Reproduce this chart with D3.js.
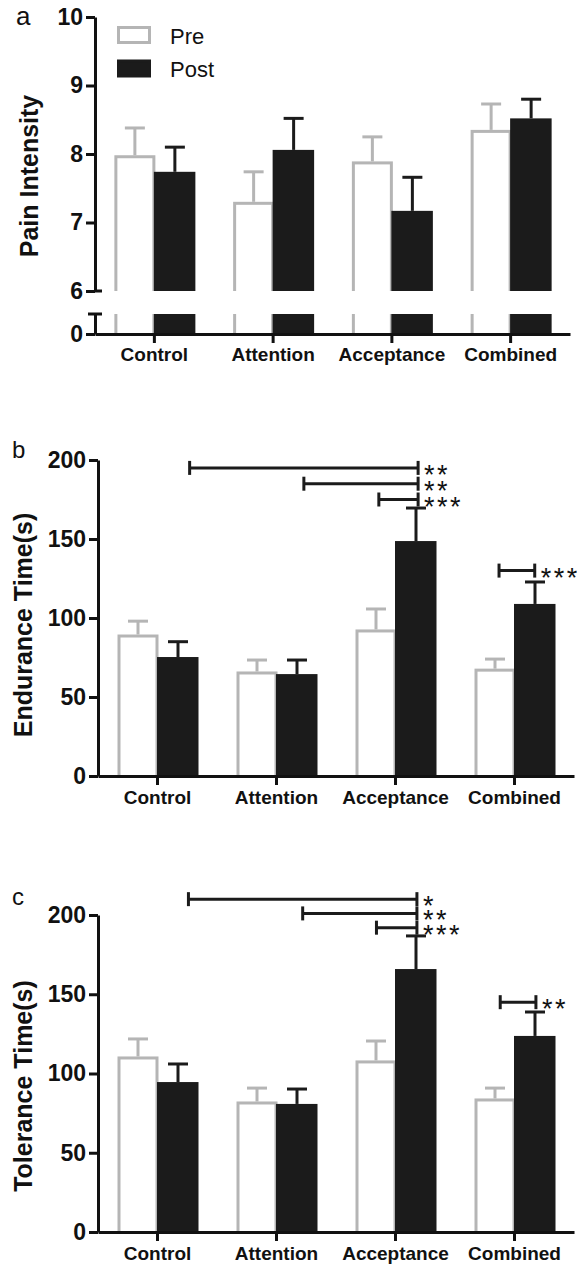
<!DOCTYPE html>
<html><head><meta charset="utf-8">
<script src="https://cdn.jsdelivr.net/npm/d3@7"></script>
<style>
body{margin:0;background:#fff}
svg{display:block}
text{font-family:"Liberation Sans",Arial,Helvetica,sans-serif;fill:#111}
</style></head><body>
<svg id="chart" width="577" height="1266"></svg>
<script>
// ---------- data ----------
const categories = ["Control", "Attention", "Acceptance", "Combined"];
const seriesNames = ["Pre", "Post"];

const painPre = [7.96, 7.28, 7.87, 8.33];
const painPreSem = [0.42, 0.46, 0.38, 0.40];
const painPost = [7.74, 8.06, 7.17, 8.52];
const painPostSem = [0.36, 0.46, 0.49, 0.28];
const painTicks = [6, 7, 8, 9, 10];

const endurancePre = [88.6, 65.2, 91.8, 67.0];
const endurancePreSem = [9.4, 8.2, 13.9, 7.0];
const endurancePost = [75.3, 64.5, 148.7, 108.9];
const endurancePostSem = [9.7, 8.9, 20.9, 13.9];

const tolerancePre = [109.8, 81.4, 107.3, 83.3];
const tolerancePreSem = [12.0, 9.4, 13.2, 7.5];
const tolerancePost = [94.6, 80.8, 165.9, 123.7];
const tolerancePostSem = [11.4, 9.4, 20.9, 15.1];

const timeTicks = [0, 50, 100, 150, 200];

// significance brackets (x in category units 0..4, y in data units)
const enduranceSigFrom = [0.77, 1.73, 2.36, 3.37];
const enduranceSigTo = [2.69, 2.69, 2.69, 3.67];
const enduranceSigY = [195, 185, 175, 130];
const enduranceSigLabel = ["**", "**", "***", "***"];

const toleranceSigFrom = [0.76, 1.72, 2.34, 3.38];
const toleranceSigTo = [2.68, 2.68, 2.68, 3.68];
const toleranceSigY = [210, 201, 192, 145];
const toleranceSigLabel = ["*", "**", "***", "**"];

// ---------- style ----------
const GRAY = "#b5b5b5", BLACK = "#1b1b1b", AX = "#111";
const BAR_W = 40, CAP_W = 20, SW = 3;

const svg = d3.select("#chart");

function styleAxis(g, fontSize) {
  g.selectAll("path.domain").attr("stroke", AX).attr("stroke-width", SW);
  g.selectAll(".tick line").attr("stroke", AX).attr("stroke-width", SW);
  g.selectAll(".tick text").attr("fill", AX)
    .style("font-family", '"Liberation Sans",Arial,sans-serif')
    .style("font-weight", "bold").style("font-size", fontSize + "px");
}

function drawBars(g, x, y, pre, preSem, post, postSem, clipId, clipTop, clipBottom, withErr) {
  const clip = g.append("clipPath").attr("id", clipId)
    .append("rect").attr("x", 0).attr("y", clipTop).attr("width", 577).attr("height", clipBottom - clipTop);
  const bg = g.append("g").attr("clip-path", `url(#${clipId})`);
  const cx = c => x(c) + x.bandwidth() / 2;
  bg.selectAll("rect.pre").data(categories).join("rect").attr("class", "pre")
    .attr("x", c => cx(c) - BAR_W + SW / 2)
    .attr("width", BAR_W - SW / 2 - 0.5)
    .attr("y", (c, i) => y(pre[i]))
    .attr("height", (c, i) => clipBottom + 20 - y(pre[i]))
    .attr("fill", "#fff").attr("stroke", GRAY).attr("stroke-width", SW);
  bg.selectAll("rect.post").data(categories).join("rect").attr("class", "post")
    .attr("x", c => cx(c) - 0.5)
    .attr("width", BAR_W + 1.5)
    .attr("y", (c, i) => y(post[i]))
    .attr("height", (c, i) => clipBottom + 20 - y(post[i]))
    .attr("fill", BLACK);
  if (!withErr) return;
  const errs = [
    { vals: pre, sem: preSem, off: -BAR_W / 2 + 0.5, col: GRAY },
    { vals: post, sem: postSem, off: BAR_W / 2 + 0.5, col: BLACK }
  ];
  errs.forEach(s => {
    const eg = g.append("g");
    eg.selectAll("line.v").data(categories).join("line")
      .attr("x1", c => cx(c) + s.off).attr("x2", c => cx(c) + s.off)
      .attr("y1", (c, i) => y(s.vals[i]) - (s.col === GRAY ? 1.5 : 0))
      .attr("y2", (c, i) => y(s.vals[i] + s.sem[i]))
      .attr("stroke", s.col).attr("stroke-width", SW);
    eg.selectAll("line.h").data(categories).join("line")
      .attr("x1", c => cx(c) + s.off - CAP_W / 2).attr("x2", c => cx(c) + s.off + CAP_W / 2)
      .attr("y1", (c, i) => y(s.vals[i] + s.sem[i]))
      .attr("y2", (c, i) => y(s.vals[i] + s.sem[i]))
      .attr("stroke", s.col).attr("stroke-width", SW);
  });
}

function xAxis(g, x, yPos, pad) {
  const ax = g.append("g").attr("transform", `translate(0,${yPos})`)
    .call(d3.axisBottom(x).tickSize(9).tickSizeOuter(0).tickPadding(pad));
  styleAxis(ax, 19);
}

function yLabel(g, text, tx, ty) {
  g.append("text").attr("transform", `translate(${tx},${ty}) rotate(-90)`)
    .attr("text-anchor", "middle").style("font-weight", "bold").style("font-size", "25px")
    .text(text);
}

function panelLetter(g, t, tx, ty, fs) {
  g.append("text").attr("x", tx).attr("y", ty).style("font-size", fs + "px").text(t);
}

// ---------- panel a ----------
(function () {
  const g = svg.append("g");
  const x = d3.scaleBand().domain(categories).range([95, 570]).padding(0);
  const yU = d3.scaleLinear().domain([6, 10]).range([291, 17]);
  const yL = d3.scaleLinear().domain([0, 1]).range([334, 314]);
  drawBars(g, x, yL, painPre, painPreSem, painPost, painPostSem, "clipAL", 314, 334, false);
  drawBars(g, x, yU, painPre, painPreSem, painPost, painPostSem, "clipAU", 0, 291, true);

  const ay = g.append("g").attr("transform", "translate(95,0)")
    .call(d3.axisLeft(yU).tickValues(painTicks).tickFormat(d3.format("d")).tickSize(9).tickSizeOuter(0).tickPadding(3));
  styleAxis(ay, 23);
  // break cap on upper segment bottom
  g.append("line").attr("x1", 95).attr("x2", 102).attr("y1", yU(6)).attr("y2", yU(6))
    .attr("stroke", AX).attr("stroke-width", SW);
  const ayl = g.append("g").attr("transform", "translate(95,0)")
    .call(d3.axisLeft(yL).tickValues([0]).tickFormat(d3.format("d")).tickSize(9).tickSizeOuter(0).tickPadding(3));
  styleAxis(ayl, 23);
  g.append("line").attr("x1", 88).attr("x2", 102).attr("y1", yL(1)).attr("y2", yL(1))
    .attr("stroke", AX).attr("stroke-width", SW);
  xAxis(g, x, 334, 5);

  yLabel(g, "Pain Intensity", 38, 176);
  panelLetter(g, "a", 16, 25, 26);

  // legend
  const lg = g.append("g");
  const legY = [35, 68.5];
  lg.selectAll("rect").data(seriesNames).join("rect")
    .attr("x", 118.5).attr("y", (d, i) => legY[i] - 7.5).attr("width", 31).attr("height", 15)
    .attr("fill", (d, i) => i === 0 ? "#fff" : BLACK)
    .attr("stroke", (d, i) => i === 0 ? GRAY : BLACK).attr("stroke-width", SW);
  lg.selectAll("text").data(seriesNames).join("text")
    .attr("x", 170).attr("y", (d, i) => legY[i] + 8.5)
    .style("font-size", "22px").text(d => d);
})();

// ---------- panels b & c ----------
function timePanel(cfg) {
  const g = svg.append("g");
  const x = d3.scaleBand().domain(categories).range([cfg.x0, cfg.x1]).padding(0);
  const xu = d3.scaleLinear().domain([0, 4]).range([cfg.x0, cfg.x1]);
  const y = d3.scaleLinear().domain([0, 200]).range([cfg.y0, cfg.y1]);
  drawBars(g, x, y, cfg.pre, cfg.preSem, cfg.post, cfg.postSem, cfg.id, 0, cfg.y0, true);
  const ay = g.append("g").attr("transform", `translate(${cfg.x0},0)`)
    .call(d3.axisLeft(y).tickValues(timeTicks).tickSize(9).tickSizeOuter(0).tickPadding(3));
  styleAxis(ay, 23);
  xAxis(g, x, cfg.y0, 6);
  // significance brackets
  const sg = g.append("g");
  cfg.sigFrom.forEach((f, i) => {
    const yy = y(cfg.sigY[i]);
    const xa = xu(f), xb = xu(cfg.sigTo[i]);
    sg.append("line").attr("x1", xa).attr("x2", xb).attr("y1", yy).attr("y2", yy)
      .attr("stroke", BLACK).attr("stroke-width", SW);
    [xa, xb].forEach(xx => sg.append("line").attr("x1", xx).attr("x2", xx)
      .attr("y1", yy - 7).attr("y2", yy + 7).attr("stroke", BLACK).attr("stroke-width", SW));
    sg.append("text").attr("x", xb + 6).attr("y", yy + 16)
      .style("font-size", "27px").style("letter-spacing", "2.5px").text(cfg.sigLabel[i]);
  });
  yLabel(g, cfg.label, 32, cfg.labelY);
  panelLetter(g, cfg.letter, 12, cfg.letterY, 24);
}

timePanel({
  id: "clipB", x0: 98, x1: 574, y0: 776, y1: 460,
  pre: endurancePre, preSem: endurancePreSem, post: endurancePost, postSem: endurancePostSem,
  sigFrom: enduranceSigFrom, sigTo: enduranceSigTo, sigY: enduranceSigY, sigLabel: enduranceSigLabel,
  label: "Endurance Time(s)", labelY: 625, letter: "b", letterY: 458
});
timePanel({
  id: "clipC", x0: 98, x1: 574, y0: 1232, y1: 915,
  pre: tolerancePre, preSem: tolerancePreSem, post: tolerancePost, postSem: tolerancePostSem,
  sigFrom: toleranceSigFrom, sigTo: toleranceSigTo, sigY: toleranceSigY, sigLabel: toleranceSigLabel,
  label: "Tolerance Time(s)", labelY: 1086, letter: "c", letterY: 905
});
</script>
</body></html>
